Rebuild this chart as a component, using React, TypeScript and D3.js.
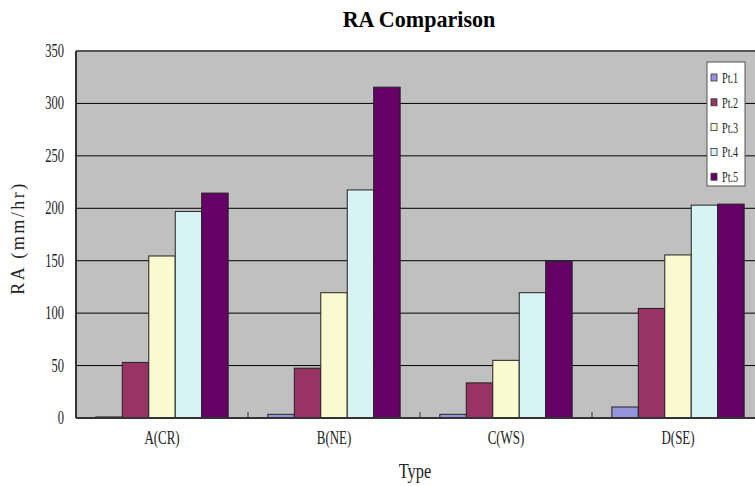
import React from "react";
import * as d3 from "d3";

const categories = ["A(CR)", "B(NE)", "C(WS)", "D(SE)"];
const seriesNames = ["Pt.1", "Pt.2", "Pt.3", "Pt.4", "Pt.5"];
const pt1 = [1, 3.5, 3.5, 10.5];
const pt2 = [53, 47.5, 33.5, 104.5];
const pt3 = [154.5, 119.5, 55, 155.5];
const pt4 = [197, 217.5, 119.5, 203];
const pt5 = [214.5, 315.5, 149.5, 204];
const yTicks = [0, 50, 100, 150, 200, 250, 300, 350];
const colors = ["#9595dc", "#993366", "#fafad0", "#d8f3f3", "#660066"];

const series = [pt1, pt2, pt3, pt4, pt5];

export default function App() {
  const W = 755, H = 486;
  const left = 76, right = 764, top = 51, bottom = 418;
  const x0 = d3.scaleBand<string>().domain(categories).range([left, right]).paddingInner(0).paddingOuter(0);
  const bw = x0.bandwidth();
  const barW = bw / (5 + 1.5);
  const x1 = d3.scaleBand<string>().domain(seriesNames).range([0, barW * 5]);
  const y = d3.scaleLinear().domain([0, 350]).range([bottom, top]);
  const font = "'Liberation Serif', 'Times New Roman', serif";

  return (
    <svg width={W} height={H} style={{ position: "absolute", left: 0, top: 0, background: "#fff" }}>
      <text transform="translate(419,27) scale(0.92,1)" textAnchor="middle" fontFamily={font} fontWeight="bold" fontSize={24}>RA Comparison</text>
      <rect x={left} y={top} width={right - left} height={bottom - top} fill="#c0c0c0" />
      {yTicks.filter(t => t > 0 && t < 350).map(t => (
        <line key={t} x1={left} x2={right} y1={y(t)} y2={y(t)} stroke="#000" strokeWidth={1} />
      ))}
      <line x1={left} x2={right} y1={top} y2={top} stroke="#555" strokeWidth={2} />
      {categories.map((c, ci) => (
        <g key={c} transform={`translate(${x0(c)! + barW * 0.75},0)`}>
          {series.map((s, si) => (
            <rect key={si} x={x1(seriesNames[si])!} y={y(s[ci])} width={barW} height={bottom - y(s[ci])}
              fill={colors[si]} stroke="#222" strokeWidth={1} />
          ))}
        </g>
      ))}
      <line x1={left} x2={left} y1={top} y2={bottom} stroke="#333" strokeWidth={2} />
      <line x1={left} x2={right} y1={bottom} y2={bottom} stroke="#333" strokeWidth={2} />
      {categories.slice(1).map(c => (
        <line key={c} x1={x0(c)!} x2={x0(c)!} y1={bottom} y2={bottom - 6} stroke="#333" strokeWidth={1} />
      ))}
      {yTicks.map(t => (
        <text key={t} transform={`translate(64,${y(t) + 6}) scale(0.66,1)`} textAnchor="end" fontFamily={font} fontSize={19} fill="#222">{t}</text>
      ))}
      {categories.map(c => (
        <text key={c} transform={`translate(${x0(c)! + bw / 2},${444}) scale(0.72,1)`} textAnchor="middle" fontFamily={font} fontSize={18} fill="#222">{c}</text>
      ))}
      <text transform={`translate(415,478) scale(0.78,1)`} textAnchor="middle" fontFamily={font} fontSize={21} fill="#222">Type</text>
      <text transform={`translate(24,238) rotate(-90)`} textAnchor="middle" fontFamily={font} fontSize={18} letterSpacing={2.5} fill="#222">RA (mm/hr)</text>
      <g>
        <rect x={707} y={62} width={38} height={124} fill="#fff" stroke="#555" strokeWidth={1} />
        {seriesNames.map((n, i) => (
          <g key={n} transform={`translate(711,${78 + i * 24.8})`}>
            <rect x={0} y={-4} width={6} height={7} fill={colors[i]} stroke="#333" strokeWidth={0.8} />
            <text transform="translate(11,5) scale(0.68,1)" fontFamily={font} fontSize={15} fill="#222">{n}</text>
          </g>
        ))}
      </g>
    </svg>
  );
}
